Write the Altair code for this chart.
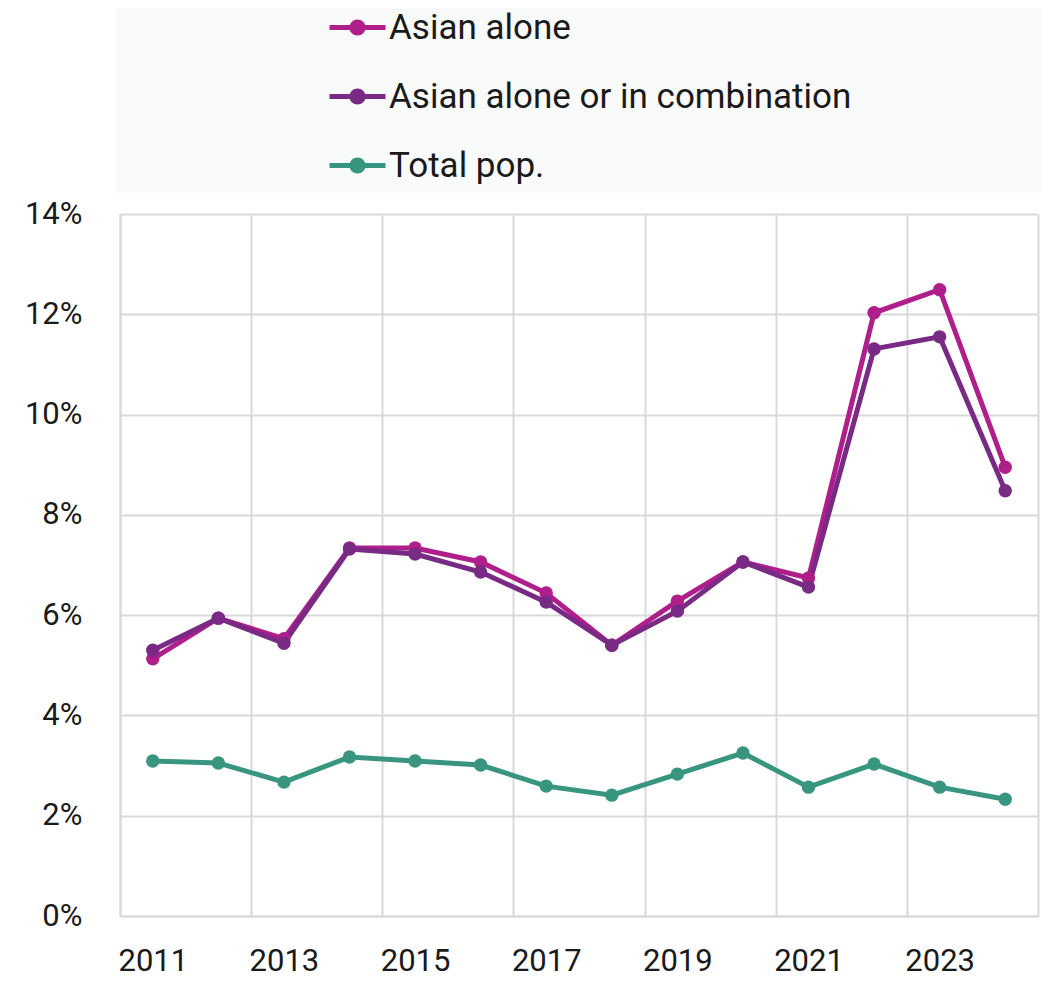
import altair as alt
import pandas as pd

years = list(range(2011, 2025))
asian_alone = [5.13, 5.94, 5.53, 7.34, 7.34, 7.06, 6.44, 5.40, 6.28, 7.06, 6.74, 12.03, 12.49, 8.95]
asian_combo = [5.30, 5.94, 5.44, 7.32, 7.22, 6.86, 6.26, 5.40, 6.08, 7.06, 6.56, 11.31, 11.55, 8.48]
total_pop = [3.09, 3.05, 2.67, 3.17, 3.09, 3.01, 2.59, 2.41, 2.83, 3.25, 2.57, 3.03, 2.57, 2.33]
series_names = ["Asian alone", "Asian alone or in combination", "Total pop."]
series_colors = ["#B01E8C", "#782A85", "#389680"]
y_ticks = [0.0, 0.02, 0.04, 0.06, 0.08, 0.10, 0.12, 0.14]
x_grid = [2010.5, 2012.5, 2014.5, 2016.5, 2018.5, 2020.5, 2022.5, 2024.5]

rows = []
for name, vals in zip(series_names, [asian_alone, asian_combo, total_pop]):
    for yr, v in zip(years, vals):
        rows.append({"year": yr, "series": name, "value": v / 100.0})
df = pd.DataFrame(rows)

AXIS_FONT = "Roboto, sans-serif"
LEG_FONT = "Roboto, sans-serif"

x_enc = alt.X(
    "year:Q",
    scale=alt.Scale(domain=[2010.5, 2024.5], nice=False, zero=False),
    axis=alt.Axis(
        values=x_grid,
        title=None,
        grid=True,
        ticks=False,
        labelExpr="datum.value < 2024 ? format(datum.value + 0.5, 'd') : ''",
        labelOffset=32.8,
        labelFlush=False,
        labelOverlap=False,
        labelBound=False,
        labelPadding=30,
        labelFont=AXIS_FONT,
        labelFontSize=31,
        labelColor="#1a1a1a",
        domainColor="#d9d9d9",
        domainWidth=2,
        gridColor="#d9d9d9",
        gridWidth=2,
    ),
)
y_enc = alt.Y(
    "value:Q",
    scale=alt.Scale(domain=[0, 0.14], nice=False),
    axis=alt.Axis(
        values=y_ticks,
        format=".0%",
        title=None,
        ticks=False,
        labelPadding=38,
        labelFont=AXIS_FONT,
        labelFontSize=31,
        labelColor="#1a1a1a",
        domainColor="#d9d9d9",
        domainWidth=2,
        gridColor="#d9d9d9",
        gridWidth=2,
    ),
)
color_scale = alt.Scale(domain=series_names, range=series_colors)

sym_path = (
    "M-1,0H1"
    "M0.089,0A0.089,0.089,0,1,1,-0.089,0A0.089,0.089,0,1,1,0.089,0Z"
    "M0.2,0A0.2,0.2,0,1,1,-0.2,0A0.2,0.2,0,1,1,0.2,0Z"
)

bg = alt.Chart(pd.DataFrame({"a": [0]})).mark_rect(color="#f8fbfa").encode(
    x=alt.value(-4), x2=alt.value(930), y=alt.value(-206), y2=alt.value(-21)
)

lines = alt.Chart(df).mark_line(strokeWidth=5).encode(
    x=x_enc,
    y=y_enc,
    color=alt.Color(
        "series:N",
        scale=color_scale,
        legend=alt.Legend(
            title=None,
            orient="none",
            legendX=207,
            legendY=-217,
            symbolType=sym_path,
            symbolSize=3136,
            symbolStrokeWidth=5,
            labelFont=LEG_FONT,
            labelFontSize=35,
            labelColor="#1a1a1a",
            labelOffset=1,
            rowPadding=20,
            padding=0,
            labelLimit=800,
        ),
    ),
    detail="series:N",
)

points = alt.Chart(df).mark_circle(size=180, opacity=1).encode(
    x="year:Q",
    y="value:Q",
    color=alt.Color("series:N", scale=color_scale, legend=None),
)

chart = (
    alt.layer(bg, lines, points)
    .properties(
        width=918,
        height=702,
        autosize=alt.AutoSizeParams(type="none"),
        padding={"left": 112, "top": 206, "right": 4, "bottom": 62},
    )
    .configure_view(stroke=None)
)

chart.save("out.html", embed_options={"renderer": "svg", "actions": False})
